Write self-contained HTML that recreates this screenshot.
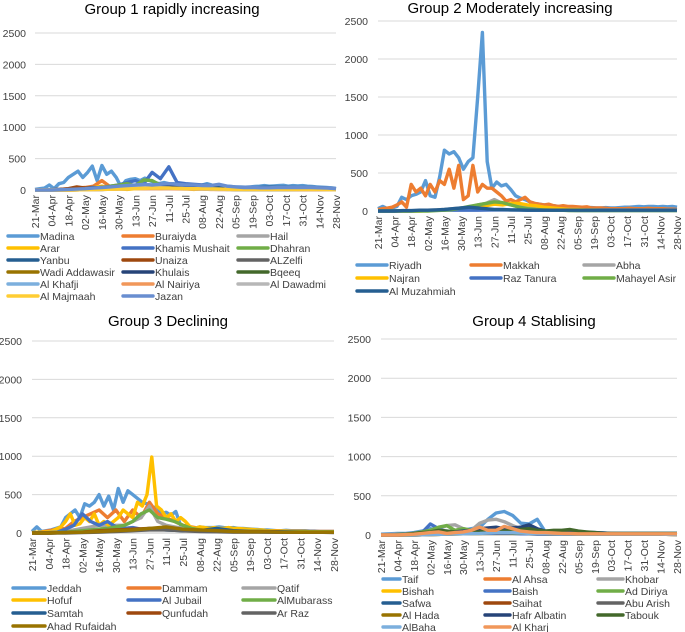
<!DOCTYPE html>
<html><head><meta charset="utf-8">
<style>
html,body{margin:0;padding:0;background:#fff;}
svg{display:block;font-family:"Liberation Sans",Arial,sans-serif;}
</style></head>
<body>
<svg id="chart" width="685" height="632" viewBox="0 0 685 632"></svg>
<script>
// ---- data ----
const tickLabels = ["21-Mar","04-Apr","18-Apr","02-May","16-May","30-May","13-Jun","27-Jun","11-Jul","25-Jul","08-Aug","22-Aug","05-Sep","19-Sep","03-Oct","17-Oct","31-Oct","14-Nov","28-Nov"];
const yTicks = [0,500,1000,1500,2000,2500];
// group 1 (step 4 days unless noted)
const madina = [10,20,30,80,20,100,120,200,250,300,200,280,380,150,390,250,300,200,50,150,170,180,150,190,150,120,100,120,100,100,90,100,80,80,70,80,100,80,70,60,60,55,50,50,45,50,55,60,70,60,65,70,75,60,70,65,70,60,55,50,45,40,35,25];
const khamis = [0,0,0,5,10,15,20,30,40,60,80,120,150,100,280,180,370,120,100,90,80,70,60,50,45,40,40,35,35,30,30,30,30,30,25,25,20];
const buraiyda = [0,0,5,10,20,30,40,60,150,50,40,60,50,40,50,30,30,20,20,15,15,10,10,10,10,10,10,10,10,10,10,10,10,10,10,10,10];
const dhahran = [0,0,0,5,10,15,20,30,40,60,80,100,70,160,150,80,60,40,30,20,20,15,15,10,10,10,10,10,10,10,10,10,10,10,10,10,10];
const arar = [0,0,0,0,5,10,20,40,60,30,20,10,20,20,30,20,30,40,20,10,20,30,40,50,20,10,10,10,10,10,10,5,5,5,5,5,5];
const yanbu = [0,0,5,10,15,20,30,40,30,40,50,50,40,50,60,60,60,50,40,40,40,40,40,40,40,35,35,40,45,45,45,40,40,40,35,30,20];
const unaiza = [0,0,5,10,20,50,30,30,40,50,60,60,70,80,60,90,60,50,40,30,30,25,20,20,15,15,15,15,15,15,15,10,10,10,10,10,10];
const alzelfi = [0,0,5,10,15,20,30,40,40,30,20,15,10,10,10,10,10,10,10];
const wadi = [0,0,5,10,20,30,40,50,40,30,20,15,10,10,10,10,10,10,5];
const khulais = [0,0,0,5,10,20,30,40,50,40,30,20,20,15,15,15,10,10,10];
const bqeeq = [0,0,5,10,20,30,40,30,30,20,20,15,10,10,10,10,10,10,10];
const khafji = [0,0,0,5,10,15,20,30,30,20,20,15,10,10,10,10,10,10,5];
const nairiya = [0,0,0,5,10,15,20,20,20,15,15,10,10,10,10,10,5,5,5];
const dawadmi = [0,0,0,5,10,20,30,40,30,20,15,10,10,10,10,10,10,10,5];
const majmaah = [0,0,0,5,10,15,20,30,30,20,20,15,10,10,10,10,10,10,5];
const jazan = [0,0,0,5,10,15,20,30,40,50,60,70,80,90,80,90,100,90,80,80,70,70,90,60,50,40,40,35,35,40,40,40,40,40,35,30,20];
// group 2
const riyadh = [30,60,30,40,60,180,150,200,220,250,400,200,180,450,800,750,780,700,550,650,700,1500,2350,650,300,380,330,350,280,200,170,150,120,100,90,80,70,70,60,60,55,50,50,50,45,45,40,40,45,40,40,45,50,50,55,60,55,60,60,55,60,55,60,50];
const makkah = [20,30,40,50,80,120,50,350,250,300,200,350,250,400,350,550,300,600,150,200,600,250,350,300,300,250,200,130,150,120,150,180,120,100,90,80,90,70,60,70,60,60,55,50,55,40,40,40,35,30,30,30,30,35,30,30,30,35,30,30,30,25,25,20];
const abha = [0,0,0,0,0,5,10,15,20,30,40,50,80,100,150,100,80,60,50,40,30,30,25,20,20,15,15,15,15,15,15,15,15,15,15,15,15];
const najran = [0,0,0,0,0,0,5,10,15,20,30,40,50,70,90,80,100,100,80,70,50,40,30,20,20,15,15,10,10,10,10,10,10,10,10,10,10];
const razTanura = [0,0,0,5,10,10,10,15,15,10,10,10,5,5,5,5,5,5,5];
const mahayel = [0,0,0,0,0,0,0,5,10,20,40,60,80,100,120,110,80,50,30,20,15,10,10,5,5,5,5,5,5,5,5,5,5,5,5,5,5];
const muzahmiah = [0,0,0,5,5,10,10,15,20,30,40,50,40,30,20,20,15,15,10,10,10,10,10,10,10,10,10,10,10,10,10,10,10,10,10,10,10];
// group 3
const jeddah = [20,80,20,30,40,60,80,200,250,300,200,380,350,400,500,350,480,300,580,400,550,500,450,400,380,300,350,250,270,230,280,100,80,70,60,80,70,70,70,80,70,65,70,60,60,55,50,45,40,40,35,30,30,35,30,30,30,30,25,25,20,20,20,20];
const dammam = [0,10,30,50,60,150,200,250,300,200,300,150,300,200,400,250,200,150,100,80,60,50,50,40,40,40,35,30,30,30,25,25,25,20,20,20,20];
const qatif = [0,0,5,10,20,40,60,80,100,80,100,100,150,200,350,150,100,80,60,50,40,40,35,30,30,30,25,25,25,20,20,20,20,15,15,15,15];
const hofuf = [5,10,10,15,20,50,80,150,250,100,120,200,150,250,100,150,100,150,200,300,250,200,400,350,500,990,350,300,200,250,150,200,150,80,60,80,70,60,70,60,60,70,60,60,55,50,45,40,40,30,30,25,25,25,20,20,20,20,15,15,15,15,15,15];
const jubail = [0,0,5,10,50,100,250,150,100,150,80,60,70,50,60,50,40,40,30,30,25,20,20,20,15,15,15,15,10,10,10,10,10,10,10,10,10];
const mubarass = [0,0,0,5,10,20,30,40,50,60,80,100,150,250,300,200,180,150,100,60,40,30,30,25,25,20,20,20,15,15,15,15,15,15,15,15,15];
const samtah = [0,0,5,10,20,30,40,50,40,30,30,60,30,20,20,15,10,10,10];
const qunfudah = [0,0,5,10,30,40,50,60,50,40,30,30,20,15,15,10,10,10,10];
const arRaz = [0,0,0,5,10,20,30,40,40,30,20,15,10,10,10,10,10,10,5];
const ahad = [0,0,5,10,20,30,40,60,80,50,40,30,20,15,15,10,10,10,10];
// group 4
const taif = [10,15,20,20,30,50,80,60,50,40,60,80,100,200,280,300,250,150,140,200,40,40,40,40,40,35,30,25,20,20,20,20,20,20,20,20,20];
const alAhsa = [0,0,5,10,15,20,30,30,30,30,30,30,20,20,20,15,15,15,15];
const khobar = [0,5,10,10,20,40,60,80,120,130,80,60,150,190,200,170,120,80,60,50,40,40,35,30,25,20,20,20,20,15,15,15,15,15,15,15,15];
const bishah = [0,0,0,5,10,15,20,20,20,15,15,10,10,10,10,10,10,10,5];
const baish = [0,0,0,5,10,30,140,80,40,30,20,20,20,20,20,20,20,15,15,10,10,10,10,10,10,10,10,10,10,10,10,10,10,10,10,10,10];
const adDiriya = [0,0,5,10,20,40,60,100,120,60,80,60,40,30,30,30,25,25,20,20,20,15,15,15,15,15,15,15,15,15,15,15,15,15,15,15,15];
const safwa = [0,0,0,5,10,20,30,40,30,20,20,30,40,60,80,70,60,100,120,60,40,40,35,30,25,20,20,15,15,15,15,15,15,15,15,15,15];
const saihat = [0,0,0,5,10,20,30,30,30,20,20,15,10,10,10,10,10,10,5];
const abuArish = [0,0,5,10,15,20,30,40,30,30,20,15,15,10,10,10,10,10,10];
const alHada = [0,0,0,5,10,15,20,30,30,30,20,15,10,10,10,10,10,10,5];
const hafr = [0,0,0,5,10,20,30,40,40,40,50,60,80,90,100,80,90,100,130,80,50,50,50,40,40,30,30,25,20,20,20,20,20,20,20,20,20];
const tabouk = [0,0,5,10,20,30,40,60,50,40,30,30,40,50,60,50,60,70,80,60,50,60,60,70,50,40,30,20,20,20,20,20,20,20,20,20,20];
const alBaha = [0,0,0,5,10,15,20,30,30,20,20,15,10,10,10,10,10,10,5];
const alKharj = [0,0,0,5,10,20,30,40,20,30,40,60,100,60,60,110,80,50,40,30,30,25,20,20,15,15,15,15,15,15,15,15,15,15,15,15,15];

// ---- drawing ----
const NS = "http://www.w3.org/2000/svg";
const svg = document.getElementById("chart");
const C = ["#5B9BD5","#ED7D31","#A5A5A5","#FFC000","#4472C4","#70AD47","#255E91","#9E480E","#636363","#997300","#264478","#43682B","#7CAFDD","#F1975A","#B7B7B7","#FFCD33","#698ED0"];
const DAYS = 252;
function mk(tag, attrs, parent){const e=document.createElementNS(NS,tag);for(const k in attrs)e.setAttribute(k,attrs[k]);parent.appendChild(e);return e;}
function stepOf(arr){return arr.length>=60?4:(arr.length>=30?7:14);}

const panels = [
 {id:"group-1",title:"Group 1 rapidly increasing",tx:172,ty:14,x0:35,x1:336,y0:190,y25:33,ylx:26,
  leg:{rows:[236,248,260,272,284,296],cols:[[8,38],[123,153],[238,268]]},
  series:[["Madina",madina],["Buraiyda",buraiyda],["Hail",alzelfi],["Arar",arar],["Khamis Mushait",khamis],["Dhahran",dhahran],["Yanbu",yanbu],["Unaiza",unaiza],["ALZelfi",alzelfi],["Wadi Addawasir",wadi],["Khulais",khulais],["Bqeeq",bqeeq],["Al Khafji",khafji],["Al Nairiya",nairiya],["Al Dawadmi",dawadmi],["Al Majmaah",majmaah],["Jazan",jazan]]},
 {id:"group-2",title:"Group 2 Moderately increasing",tx:510,ty:13,x0:378,x1:677,y0:211,y25:21,ylx:368,
  leg:{rows:[265,278,291],cols:[[357,387],[471,501],[584,614]]},
  series:[["Riyadh",riyadh],["Makkah",makkah],["Abha",abha],["Najran",najran],["Raz Tanura",razTanura],["Mahayel Asir",mahayel],["Al Muzahmiah",muzahmiah]]},
 {id:"group-3",title:"Group 3 Declining",tx:168,ty:326,x0:32,x1:334,y0:533,y25:341,ylx:22,
  leg:{rows:[588,600,613,626],cols:[[13,45],[128,160],[243,275]]},
  series:[["Jeddah",jeddah],["Dammam",dammam],["Qatif",qatif],["Hofuf",hofuf],["Al Jubail",jubail],["AlMubarass",mubarass],["Samtah",samtah],["Qunfudah",qunfudah],["Ar Raz",arRaz],["Ahad Rufaidah",ahad]]},
 {id:"group-4",title:"Group 4 Stablising",tx:534,ty:326,x0:381,x1:677,y0:535,y25:339,ylx:371,
  leg:{rows:[579,591,603,615,627],cols:[[383,400],[485,510],[598,623]]},
  series:[["Taif",taif],["Al Ahsa",alAhsa],["Khobar",khobar],["Bishah",bishah],["Baish",baish],["Ad Diriya",adDiriya],["Safwa",safwa],["Saihat",saihat],["Abu Arish",abuArish],["Al Hada",alHada],["Hafr Albatin",hafr],["Tabouk",tabouk],["AlBaha",alBaha],["Al Kharj",alKharj]]}
];

panels.forEach(p=>{
  const g = mk("g",{},svg);
  
  
  const xs = d => p.x0 + (p.x1-p.x0)*d/DAYS;
  const ys = v => p.y0 - (p.y0-p.y25)*v/2500;
  const t = mk("text",{x:p.tx,y:p.ty,"text-anchor":"middle","font-size":"15",fill:"#000"},g);
  t.textContent = p.title;
  
  
  yTicks.forEach(v=>{
    const l = mk("line",{x1:p.x0,x2:p.x1,y1:ys(v),y2:ys(v),stroke:v===0?"#bfbfbf":"#d9d9d9","stroke-width":1},g);
    
    
    const tl = mk("text",{x:p.ylx,y:ys(v)+4,"text-anchor":"end","font-size":"10.5",fill:"#404040"},g);
    tl.textContent = v;
    
    
  });
  tickLabels.forEach((lab,i)=>{
    const x = xs(i*14)+4, y = p.y0+5;
    const tl = mk("text",{x:x,y:y,"text-anchor":"end","font-size":"10.5",fill:"#404040",transform:`rotate(-90 ${x} ${y})`},g);
    tl.textContent = lab;
    
    
  });
  p.series.forEach((s,i)=>{
    const arr = s[1], st = stepOf(arr);
    const pts = arr.map((v,k)=>xs(k*st).toFixed(1)+","+ys(v).toFixed(1)).join(" ");
    const pl = mk("polyline",{points:pts,fill:"none",stroke:C[i%C.length],"stroke-width":3.4,"stroke-linejoin":"round"},g);
    
    
    const r = p.leg.rows[Math.floor(i/3)], c = p.leg.cols[i%3];
    const ll = mk("line",{x1:c[0],x2:c[1],y1:r,y2:r,stroke:C[i%C.length],"stroke-width":3.4,"stroke-linecap":"round"},g);
    
    
    const lt = mk("text",{x:c[1]+2,y:r+4,"font-size":"10.5",fill:"#404040"},g);
    lt.textContent = s[0];
    
    
  });
});
</script>
</body></html>
